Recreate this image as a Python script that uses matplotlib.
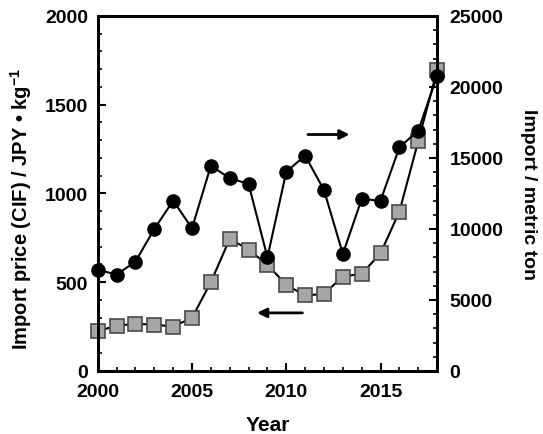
import matplotlib
matplotlib.use("Agg")
import matplotlib.pyplot as plt
from matplotlib.ticker import MultipleLocator

# Data
years = list(range(2000, 2019))
price = [224, 255, 265, 261, 250, 299, 500, 744, 684, 598,
         485, 425, 434, 532, 547, 663, 898, 1295, 1693]
imports = [7130, 6780, 7700, 10000, 11990, 10050, 14450, 13570, 13170, 8000,
           14030, 15160, 12740, 8240, 12110, 11990, 15750, 16920, 20790]

plt.rcParams["font.family"] = ["Liberation Sans", "DejaVu Sans"]
plt.rcParams["font.weight"] = "bold"
plt.rcParams["mathtext.fontset"] = "custom"
plt.rcParams["mathtext.bf"] = "Liberation Sans:bold"
plt.rcParams["mathtext.rm"] = "Liberation Sans:bold"
plt.rcParams["mathtext.default"] = "bf"


def main():
    fig = plt.figure(figsize=(5.43, 4.35), dpi=100)
    ax1 = fig.add_axes([0.180, 0.145, 0.625, 0.816])
    ax2 = ax1.twinx()

    # price: grey squares on left axis
    ax1.plot(years, price, color="black", linewidth=1.5, marker="s",
             markersize=10, markerfacecolor="#a6a6a6",
             markeredgecolor="#4a4a4a", markeredgewidth=1.2, clip_on=False)

    # import volume: black circles on right axis
    ax2.plot(years, imports, color="black", linewidth=1.5, marker="o",
             markersize=9.5, markerfacecolor="black", clip_on=False)

    ax1.set_xlim(2000, 2018)
    ax1.set_ylim(0, 2000)
    ax2.set_ylim(0, 25000)

    ax1.xaxis.set_major_locator(MultipleLocator(5))
    ax1.xaxis.set_minor_locator(MultipleLocator(1))
    ax1.yaxis.set_major_locator(MultipleLocator(500))
    ax1.yaxis.set_minor_locator(MultipleLocator(100))
    ax2.yaxis.set_major_locator(MultipleLocator(5000))
    ax2.yaxis.set_minor_locator(MultipleLocator(1000))

    for ax in (ax1, ax2):
        for sp in ax.spines.values():
            sp.set_linewidth(2)
        ax.tick_params(which="major", direction="in", length=6, width=1.5,
                       labelsize=14)
        ax.tick_params(which="minor", direction="in", length=3, width=1.2)
    ax1.tick_params(axis="x", pad=9)
    ax1.tick_params(axis="y", pad=7)
    ax2.tick_params(axis="y", pad=9)

    ax1.set_xlabel("Year", fontsize=15, fontweight="bold")
    ax1.xaxis.set_label_coords(0.5, -0.124)
    ax1.set_ylabel("Import price (CIF) / JPY \u2022 kg$^{-1}$", fontsize=14.5,
                   fontweight="bold")
    ax1.yaxis.set_label_coords(-0.187, 0.46)
    ax2.set_ylabel("Import / metric ton", fontsize=14, fontweight="bold",
                   rotation=270, va="center")
    ax2.yaxis.set_label_coords(1.268, 0.5)

    # arrows pointing to the axis each series belongs to
    ax1.annotate("", xy=(2013.5, 1332), xytext=(2011.0, 1332),
                 arrowprops=dict(arrowstyle="-|>", lw=2, color="black",
                                 mutation_scale=14))
    ax1.annotate("", xy=(2008.3, 327), xytext=(2011.0, 327),
                 arrowprops=dict(arrowstyle="-|>", lw=2, color="black",
                                 mutation_scale=14))

    fig.savefig("out.png", dpi=100)
    plt.close(fig)


if __name__ == "__main__":
    main()
